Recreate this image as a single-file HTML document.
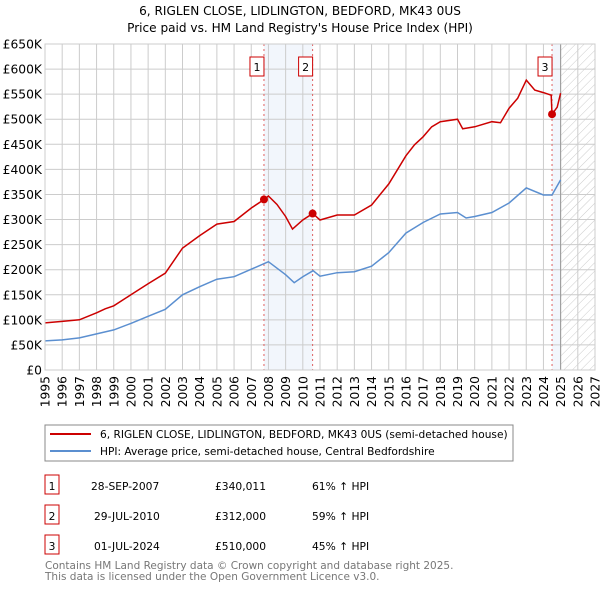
<!DOCTYPE html>
<html><head><meta charset="utf-8"><style>
body{margin:0;background:#fff;font-family:"Liberation Sans","DejaVu Sans",sans-serif;}
svg text{font-family:"DejaVu Sans","Liberation Sans",sans-serif;}
</style></head><body>
<svg id="c" width="600" height="590" xmlns="http://www.w3.org/2000/svg">
<defs><pattern id="hatch" width="6" height="6" patternUnits="userSpaceOnUse" patternTransform="rotate(45)"><line x1="0" y1="0" x2="0" y2="6" stroke="#ccc" stroke-width="1"/></pattern></defs>
<text x="300" y="15" text-anchor="middle" font-size="12.1" fill="#000">6, RIGLEN CLOSE, LIDLINGTON, BEDFORD, MK43 0US</text>
<text x="300" y="32" text-anchor="middle" font-size="12.1" fill="#000">Price paid vs. HM Land Registry's House Price Index (HPI)</text>
<g id="plot"></g>
<rect x="45" y="425" width="468" height="36" fill="#fff" stroke="#888"/>
<line x1="50" y1="434" x2="91" y2="434" stroke="#cc0000" stroke-width="2"/>
<text x="100" y="438" font-size="10.6">6, RIGLEN CLOSE, LIDLINGTON, BEDFORD, MK43 0US (semi-detached house)</text>
<line x1="50" y1="451" x2="91" y2="451" stroke="#5b8fd0" stroke-width="2"/>
<text x="100" y="455" font-size="10.6">HPI: Average price, semi-detached house, Central Bedfordshire</text>
<g id="tbl" font-size="10.7"></g>
<text x="45" y="569" font-size="10.5" fill="#777">Contains HM Land Registry data © Crown copyright and database right 2025.</text>
<text x="45" y="580" font-size="10.5" fill="#777">This data is licensed under the Open Government Licence v3.0.</text>
</svg>
<script>
const hpiYears=[1995,1996,1997,1998,1999,2000,2001,2002,2003,2004,2005,2006,2007,2008,2009,2009.5,2010,2010.6,2011,2012,2013,2014,2015,2016,2017,2018,2019,2019.5,2020,2021,2022,2023,2024,2024.5,2025];
const hpiValues=[58,60,64,72,80,93,107,121,150,166,181,186,201,216,190,174,186,198,187,194,196,207,234,273,294,311,314,303,306,314,333,363,349,349,379];
const ppYears=[1995,1996,1997,1998,1998.5,1999,2000,2001,2002,2003,2004,2005,2006,2007,2007.75,2008,2008.5,2009,2009.4,2010,2010.58,2011,2012,2013,2014,2015,2016,2016.5,2017,2017.5,2018,2019,2019.3,2020,2021,2021.5,2022,2022.5,2023,2023.5,2024,2024.45,2024.5,2024.8,2025];
const ppValues=[94,97,100,114,122,128,150,172,193,243,268,291,296,323,340,347,330,306,281,299,312,299,309,309,329,371,427,449,465,485,495,500,481,485,495,493,522,542,578,558,553,548,510,524,552];
const saleYears=[2007.74,2010.57,2024.5];
const saleValues=[340.011,312,510];
const saleLabels=["1","2","3"];
const saleDates=["28-SEP-2007","29-JUL-2010","01-JUL-2024"];
const salePrices=["£340,011","£312,000","£510,000"];
const saleDiffs=["61% ↑ HPI","59% ↑ HPI","45% ↑ HPI"];
const yTicks=[0,50,100,150,200,250,300,350,400,450,500,550,600,650];
const xTicks=[1995,1996,1997,1998,1999,2000,2001,2002,2003,2004,2005,2006,2007,2008,2009,2010,2011,2012,2013,2014,2015,2016,2017,2018,2019,2020,2021,2022,2023,2024,2025,2026,2027];
const NS="http://www.w3.org/2000/svg";
const X0=45,X1=595,Y0=370,Y1=44;
const xs=y=>X0+(y-1995)/(2027-1995)*(X1-X0);
const ys=v=>Y0-v/650*(Y0-Y1);
const plot=document.getElementById('plot');
function mk(tag,attrs,parent){const e=document.createElementNS(NS,tag);for(const k in attrs)e.setAttribute(k,attrs[k]);(parent||plot).appendChild(e);return e;}
let r;
r=mk('rect',{x:xs(2007.74),y:Y1,width:xs(2010.57)-xs(2007.74),height:Y0-Y1,fill:'#f2f6fc'});


r=mk('rect',{x:xs(2024.5),y:Y1,width:xs(2025)-xs(2024.5),height:Y0-Y1,fill:'#f2f6fc'});


r=mk('rect',{x:xs(2025),y:Y1,width:X1-xs(2025),height:Y0-Y1,fill:'url(#hatch)'});


yTicks.forEach(v=>{const l=mk('line',{x1:X0,x2:X1,y1:ys(v),y2:ys(v),stroke:'#ccc'});


const t=mk('text',{x:42,y:ys(v)+4.5,'text-anchor':'end','font-size':'12.3'});t.textContent=v===0?'£0':'£'+v+'K';

});
xTicks.forEach(y=>{const l=mk('line',{x1:xs(y),x2:xs(y),y1:Y1,y2:Y0,stroke:'#ccc'});


const t=mk('text',{x:0,y:0,'text-anchor':'end','font-size':'12.3',transform:`translate(${xs(y)+4.5},${Y0+6}) rotate(-90)`});t.textContent=y;

});
r=mk('line',{x1:xs(2025),x2:xs(2025),y1:Y1,y2:Y0,stroke:'#999'});


saleYears.forEach((y,i)=>{const l=mk('line',{x1:xs(y),x2:xs(y),y1:Y1,y2:Y0,stroke:'#e06060','stroke-dasharray':'2,3'});

});
const path=(xa,va)=>xa.map((y,i)=>(i?'L':'M')+xs(y).toFixed(1)+','+ys(va[i]).toFixed(1)).join('');
r=mk('path',{d:path(hpiYears,hpiValues),fill:'none',stroke:'#5b8fd0','stroke-width':1.5});


r=mk('path',{d:path(ppYears,ppValues),fill:'none',stroke:'#cc0000','stroke-width':1.5});


saleYears.forEach((y,i)=>{const c=mk('circle',{cx:xs(y),cy:ys(saleValues[i]),r:4,fill:'#cc0000'});


const bx=mk('rect',{x:xs(y)-14,y:57,width:14,height:19,fill:'#fff',stroke:'#cc0000'});


const t=mk('text',{x:xs(y)-7,y:71,'text-anchor':'middle','font-size':'11'});t.textContent=saleLabels[i];

});
r=mk('rect',{x:X0,y:Y1,width:X1-X0,height:Y0-Y1,fill:'none',stroke:'#ccc'});


const tbl=document.getElementById('tbl');
saleLabels.forEach((s,i)=>{const yy=488+i*30;
const b=mk('rect',{x:45,y:yy-13,width:14,height:19,fill:'#fff',stroke:'#cc0000'},tbl);


const cells=[[52,s,'middle'],[[91,94,94][i],saleDates[i],'start'],[215,salePrices[i],'start'],[312,saleDiffs[i],'start']];
cells.forEach(c=>{const t=mk('text',{x:c[0],y:yy+2,'text-anchor':c[2]},tbl);t.textContent=c[1];

});});
</script>
</body></html>
